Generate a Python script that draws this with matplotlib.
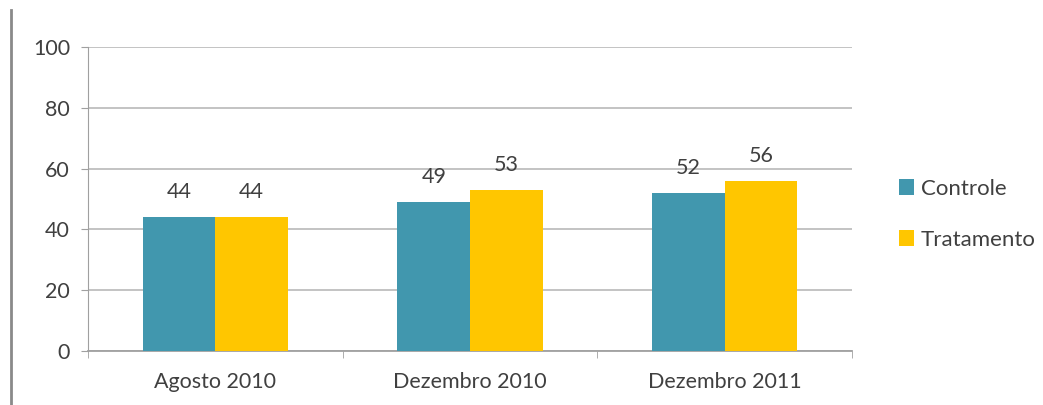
import matplotlib
matplotlib.use("Agg")
import matplotlib.pyplot as plt
import matplotlib.lines as mlines
import numpy as np

categories = ["Agosto 2010", "Dezembro 2010", "Dezembro 2011"]
controle = [44, 49, 52]
tratamento = [44, 53, 56]
series_names = ["Controle", "Tratamento"]

plt.rcParams['font.family'] = ['Lato', 'DejaVu Sans']
txt = '#404040'

fig = plt.figure(figsize=(10.43, 4.05), dpi=100)
ax = fig.add_axes([0.0844, 0.1333, 0.7326, 0.7506])

x = np.arange(len(categories))
w = 0.285
b1 = ax.bar(x - w/2, controle, w, color='#4197AE', label=series_names[0], zorder=3)
b2 = ax.bar(x + w/2, tratamento, w, color='#FFC600', label=series_names[1], zorder=3)

for bars, vals in ((b1, controle), (b2, tratamento)):
    for r, v in zip(bars, vals):
        ax.text(r.get_x() + r.get_width()/2, v + 5, str(v), ha='center', va='bottom',
                fontsize=15.5, color=txt)

ax.set_xlim(-0.5, 2.5)
ax.set_ylim(0, 100)
ax.set_yticks(range(0, 101, 20))
ax.yaxis.grid(True, color='#BEBEBE', linewidth=1.3, zorder=0)
ax.set_xticks(x)
ax.set_xticklabels(categories)
ax.set_xticks([-0.5, 0.5, 1.5, 2.5], minor=True)
ax.tick_params(axis='x', which='major', length=0, pad=15, labelsize=15.5, labelcolor=txt)
ax.tick_params(axis='x', which='minor', length=5, color='#A0A0A0')
ax.tick_params(axis='y', length=5, color='#A0A0A0', labelsize=15.5, labelcolor=txt, pad=8)
for s in ['top', 'right']:
    ax.spines[s].set_visible(False)
ax.spines['left'].set_color('#A0A0A0')
ax.spines['bottom'].set_color('#A0A0A0')
ax.spines['bottom'].set_linewidth(1.3)

ax.legend(loc='center left', bbox_to_anchor=(1.035, 0.45), frameon=False, fontsize=16,
          handlelength=0.7, handleheight=0.7, handletextpad=0.3, labelspacing=1.4,
          labelcolor=txt)

fig.add_artist(mlines.Line2D([0.0105, 0.0105], [0, 0.975], color='#8A8A8A', linewidth=2))

fig.savefig("out.png", dpi=100)
